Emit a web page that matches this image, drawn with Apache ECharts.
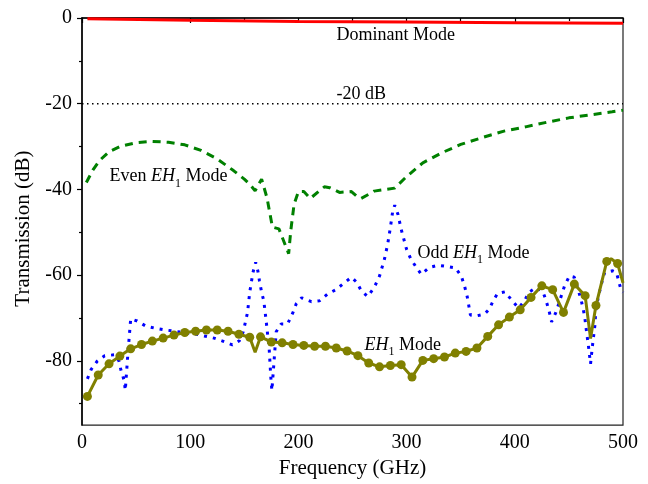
<!DOCTYPE html>
<html>
<head>
<meta charset="utf-8">
<script src="https://cdn.jsdelivr.net/npm/echarts@6/dist/echarts.min.js"></script>
<style>
  html, body { margin: 0; padding: 0; background: #fff; }
  #chart { width: 648px; height: 484px; }
</style>
</head>
<body>
<div id="chart"></div>
<script>
// Transmission of each waveguide mode versus frequency (GHz, dB)

const dominantFreq = [5, 100, 200, 300, 400, 500];
const dominantDb   = [-0.2, -0.55, -0.8, -0.95, -1.1, -1.25];

const refLevelDb = -20;
const refFreq = [0, 500];

const evenFreq = [4, 10, 16, 25, 35, 50, 65, 80, 95, 110, 125, 140, 150, 155, 160, 166, 171, 176, 182,
  191, 193, 196, 200, 205, 211, 219, 224, 229, 238, 249, 254, 258, 266, 270, 289, 300, 315, 333, 350,
  370, 390, 410, 430, 450, 470, 490, 500];
const evenDb = [-38.4, -35.5, -33.3, -31.2, -30.0, -29.1, -28.8, -29.0, -29.6, -30.9, -32.9, -35.6, -37.6,
  -38.8, -40.3, -37.6, -42.0, -48.8, -49.2, -55.0, -49.5, -43.5, -40.5, -40.5, -42.1, -40.4, -39.4, -39.6,
  -40.7, -40.5, -41.6, -42.1, -41.0, -40.4, -39.7, -37.0, -33.8, -31.4, -29.5, -27.9, -26.4, -25.4, -24.3,
  -23.3, -22.6, -21.9, -21.5];

const oddFreq = [5, 8.5, 14, 21, 30, 34, 36, 39, 40, 42.5, 45, 51, 59, 68, 77, 86, 96, 104, 113, 122, 130,
  139, 145.5, 149, 151, 153, 155, 156.5, 158, 160.5, 162.5, 164, 166, 168, 170, 173, 174.5, 175.5, 179.5,
  184, 190, 195, 198, 203, 212, 219.5, 227, 234, 241, 249, 254, 258, 264, 270, 275, 279.5, 282.5, 285, 287,
  289, 292, 295, 300, 304, 309, 313.5, 321, 329, 338, 345, 350.5, 353.5, 356, 359, 365, 372, 376.5, 380,
  384, 391, 397, 403.5, 409, 413, 420, 426, 429, 432, 434, 438, 442, 446, 450.5, 455, 458, 461.5, 464.5,
  466, 468, 470, 472, 474, 475, 477.5, 480, 483, 490.5, 494, 498, 500];
const oddDb = [-84.2, -82.0, -80.1, -78.8, -78.6, -79.9, -82.2, -84.6, -86.9, -78.0, -70.2, -70.7, -71.9,
  -72.4, -72.8, -73.1, -73.5, -73.7, -74.2, -74.7, -75.4, -76.3, -75.3, -73.2, -71.0, -68.7, -64.0, -61.7,
  -59.4, -57.0, -59.0, -61.3, -64.0, -66.0, -70.2, -77.2, -83.8, -86.9, -73.2, -71.4, -71.4, -68.7, -66.7,
  -65.3, -66.2, -66.0, -64.4, -63.5, -62.1, -60.5, -61.7, -63.6, -65.0, -62.9, -60.2, -56.3, -52.8, -48.9,
  -45.4, -43.7, -45.8, -49.3, -54.0, -56.3, -58.2, -59.8, -58.2, -57.7, -58.0, -58.3, -60.2, -62.5, -65.0,
  -69.3, -69.5, -69.1, -67.9, -66.0, -64.3, -63.9, -65.8, -67.7, -66.0, -64.0, -62.9, -63.9, -66.0, -68.7,
  -70.9, -68.7, -65.6, -62.5, -60.2, -60.5, -62.9, -66.0, -69.5, -72.6, -76.4, -80.7, -76.0, -71.8, -67.9,
  -64.8, -62.1, -59.4, -59.0, -59.4, -63.3, -64.0];

const eh1Freq = [5, 15, 25, 35, 45, 55, 65, 75, 85, 95, 105, 115, 125, 135, 145, 155, 160, 165, 175, 185,
  195, 205, 215, 225, 235, 245, 255, 265, 275, 285, 295, 305, 315, 325, 335, 345, 355, 365, 375, 385, 395,
  405, 415, 425, 435, 445, 455, 465, 470, 475, 485, 489, 495, 500];
const eh1Db = [-88.3, -83.3, -80.7, -78.9, -77.2, -76.2, -75.4, -74.7, -74.0, -73.4, -73.1, -72.8, -72.8,
  -73.1, -73.8, -74.5, -78.0, -74.4, -75.6, -75.8, -76.2, -76.4, -76.6, -76.6, -77.0, -77.7, -78.8, -80.5,
  -81.4, -81.1, -80.9, -83.8, -79.9, -79.5, -79.1, -78.2, -77.8, -77.0, -74.3, -71.6, -69.8, -68.1, -65.2,
  -62.5, -63.4, -68.7, -62.1, -64.8, -74.8, -67.1, -56.8, -56.2, -57.3, -61.8];
// simulated points that sit between the marked samples
const eh1Unmarked = [160, 470, 489, 500];

const yLabelValues = [0, -20, -40, -60, -80];
const yMinorValues = [-10, -30, -50, -70, -90];

const FONT = '"Liberation Serif", "Times New Roman", serif';

function zip(xs, ys) { return xs.map((x, i) => [x, ys[i]]); }

const chart = echarts.init(document.getElementById('chart'), null, { renderer: 'canvas' });

const eh1Data = eh1Freq.map((f, i) => {
  const item = { value: [f, eh1Db[i]] };
  if (eh1Unmarked.includes(f)) item.symbolSize = 0;
  return item;
});

chart.setOption({
  animation: false,
  backgroundColor: '#fff',
  grid: { left: 82, right: 25, top: 18, bottom: 56, show: true, borderColor: '#222', borderWidth: 1.2 },
  xAxis: {
    type: 'value', min: 0, max: 500, interval: 100,
    axisLine: { lineStyle: { color: '#000', width: 1.5 } },
    axisTick: { inside: false, length: 5, lineStyle: { color: '#000', width: 1.2 } },
    minorTick: { show: true, splitNumber: 2, length: 3, lineStyle: { color: '#000', width: 1.2 } },
    splitLine: { show: false },
    axisLabel: { fontFamily: FONT, fontSize: 20, color: '#000', margin: 8 },
    name: 'Frequency (GHz)', nameLocation: 'middle', nameGap: 32,
    nameTextStyle: { fontFamily: FONT, fontSize: 21, color: '#000' }
  },
  yAxis: [{
    type: 'value', min: -95, max: 0,
    axisLine: { lineStyle: { color: '#000', width: 1.5 } },
    axisTick: { inside: false, length: 5, customValues: yLabelValues, lineStyle: { color: '#000', width: 1.2 } },
    splitLine: { show: false },
    axisLabel: { fontFamily: FONT, fontSize: 20, color: '#000', margin: 10, customValues: yLabelValues },
    name: 'Transmission (dB)', nameLocation: 'middle', nameGap: 46,
    nameTextStyle: { fontFamily: FONT, fontSize: 21, color: '#000', padding: [0, 14, 0, 0] }
  }, {
    type: 'value', min: -95, max: 0, position: 'left',
    axisLine: { show: false },
    axisTick: { inside: false, length: 3, customValues: yMinorValues, lineStyle: { color: '#000', width: 1.2 } },
    axisLabel: { show: false },
    splitLine: { show: false }
  }],
  series: [
    {
      name: 'Even EH1', type: 'line', data: zip(evenFreq, evenDb), showSymbol: false, symbol: 'none',
      lineStyle: { color: '#008000', width: 3, type: [8, 6] }, z: 2
    },
    {
      name: 'Odd EH1', type: 'line', data: zip(oddFreq, oddDb), showSymbol: false, symbol: 'none',
      lineStyle: { color: '#0000ff', width: 3, type: [3, 6] }, z: 3
    },
    {
      name: 'EH1', type: 'line', data: eh1Data, symbol: 'circle', symbolSize: 9, showAllSymbol: true,
      lineStyle: { color: '#808000', width: 3 }, itemStyle: { color: '#808000' }, z: 4
    },
    {
      name: 'Dominant', type: 'line', data: zip(dominantFreq, dominantDb), showSymbol: false, symbol: 'none',
      lineStyle: { color: '#ff0000', width: 3 }, z: 5
    },
    {
      name: '-20 dB', type: 'line', data: refFreq.map(f => [f, refLevelDb]), showSymbol: false, symbol: 'none',
      lineStyle: { color: '#000', width: 1.5, type: [1.5, 3.5] }, z: 1
    }
  ]
});

// Curve annotations, anchored in data coordinates
const rich = {
  n: { fontFamily: FONT, fontSize: 18, color: '#000', lineHeight: 26 },
  i: { fontFamily: FONT, fontSize: 18, fontStyle: 'italic', color: '#000', lineHeight: 26 },
  s: { fontFamily: FONT, fontSize: 12, color: '#000', lineHeight: 12, verticalAlign: 'bottom' }
};
const notes = [
  { at: [290, -4.0], text: '{n|Dominant Mode}', align: 'center' },
  { at: [258, -17.7], text: '{n|-20 dB}', align: 'center' },
  { at: [25.4, -37.0], text: '{n|Even }{i|EH}{s|1}{n| Mode}', align: 'left' },
  { at: [310, -54.9], text: '{n|Odd }{i|EH}{s|1}{n| Mode}', align: 'left' },
  { at: [261, -76.3], text: '{i|EH}{s|1}{n| Mode}', align: 'left' }
];
chart.setOption({
  graphic: notes.map(nt => {
    const p = chart.convertToPixel({ gridIndex: 0 }, nt.at);
    return {
      type: 'text', x: p[0], y: p[1], z: 10,
      style: { text: nt.text, rich: rich, align: nt.align, verticalAlign: 'middle' }
    };
  })
});
</script>
</body>
</html>
